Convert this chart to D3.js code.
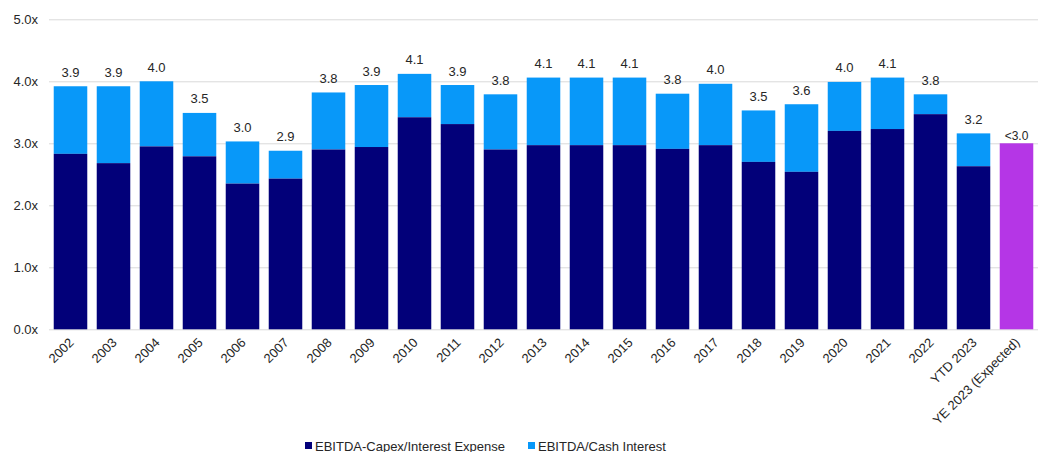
<!DOCTYPE html>
<html>
<head>
<meta charset="utf-8">
<script src="https://cdn.jsdelivr.net/npm/d3@7/dist/d3.min.js"></script>
<style>
  html, body { margin: 0; padding: 0; background: #ffffff; }
  svg { display: block; font-family: "Liberation Sans", Arial, sans-serif; }
</style>
</head>
<body>
<svg id="chart" width="1050" height="452"></svg>
<script>
// Coverage ratios by year
const categories = ["2002","2003","2004","2005","2006","2007","2008","2009","2010","2011","2012",
  "2013","2014","2015","2016","2017","2018","2019","2020","2021","2022","YTD 2023","YE 2023 (Expected)"];
// EBITDA-Capex / Interest Expense (lower, dark segment)
const capexCoverage = [2.83,2.68,2.95,2.79,2.35,2.43,2.90,2.94,3.42,3.31,2.90,
  2.97,2.97,2.97,2.91,2.97,2.70,2.54,3.20,3.23,3.47,2.63,null];
// EBITDA / Cash Interest (bar total)
const cashCoverage = [3.92,3.92,4.00,3.49,3.03,2.88,3.82,3.94,4.12,3.94,3.79,
  4.06,4.06,4.06,3.80,3.96,3.53,3.63,3.99,4.06,3.79,3.16,null];
// Year-end expectation shown as a single bar
const expectedCategory = "YE 2023 (Expected)";
const expectedValue = 3.0;
const expectedLabel = "<3.0";
const yTicks = [0,1,2,3,4,5];
const seriesNames = ["EBITDA-Capex/Interest Expense","EBITDA/Cash Interest"];

const colors = { dark: "#020079", light: "#0898F9", expected: "#B536E6", grid: "#D9D9D9", text: "#262626" };

const svg = d3.select("#chart");
const margin = { left: 49, right: 12, top: 19, bottom: 123 };
const width = 1050, height = 452;

const x = d3.scaleBand()
  .domain(categories)
  .range([margin.left, width - margin.right])
  .paddingInner(0.22)
  .paddingOuter(0.11);

const y = d3.scaleLinear()
  .domain([0, 5])
  .range([height - margin.bottom + 0.3, margin.top + 0.3]);

// Horizontal gridlines and y labels
const yAxis = d3.axisLeft(y)
  .tickValues(yTicks)
  .tickSize(-(width - margin.right - margin.left))
  .tickPadding(11)
  .tickFormat(d => d3.format(".1f")(d) + "x");

const gy = svg.append("g")
  .attr("transform", `translate(${margin.left},0)`)
  .call(yAxis);
gy.select(".domain").remove();
gy.selectAll(".tick line").attr("stroke", colors.grid).attr("stroke-width", 1);
gy.selectAll(".tick text")
  .attr("fill", colors.text)
  .attr("font-size", 13)
  .attr("font-family", "Liberation Sans, Arial, sans-serif");

// Build rows for plotting
const rows = categories.map((c, i) => ({
  cat: c, low: capexCoverage[i], total: cashCoverage[i]
}));
const stackedRows = rows.filter(r => r.total !== null);

const bars = svg.append("g");

// light segment: from the dark top to the total
bars.selectAll("rect.light")
  .data(stackedRows)
  .join("rect")
  .attr("class", "light")
  .attr("x", d => x(d.cat))
  .attr("width", x.bandwidth())
  .attr("y", d => y(d.total))
  .attr("height", d => y(d.low) - y(d.total))
  .attr("fill", colors.light);

// dark segment: from zero up
bars.selectAll("rect.dark")
  .data(stackedRows)
  .join("rect")
  .attr("class", "dark")
  .attr("x", d => x(d.cat))
  .attr("width", x.bandwidth())
  .attr("y", d => y(d.low))
  .attr("height", d => y(0) - y(d.low))
  .attr("fill", colors.dark);

// expected bar
bars.append("rect")
  .attr("x", x(expectedCategory))
  .attr("width", x.bandwidth())
  .attr("y", y(expectedValue))
  .attr("height", y(0) - y(expectedValue))
  .attr("fill", colors.expected);

// Total labels
svg.append("g").selectAll("text")
  .data(stackedRows)
  .join("text")
  .attr("x", d => x(d.cat) + x.bandwidth() / 2)
  .attr("y", d => y(d.total) - 9.5)
  .attr("text-anchor", "middle")
  .attr("font-size", 13)
  .attr("fill", colors.text)
  .text(d => d.total.toFixed(1));

svg.append("text")
  .attr("x", x(expectedCategory) + x.bandwidth() / 2)
  .attr("y", y(expectedValue) - 3)
  .attr("text-anchor", "middle")
  .attr("font-size", 12)
  .attr("fill", colors.text)
  .text(expectedLabel);

// Category labels, rotated
const xAxis = d3.axisBottom(x).tickSize(0).tickPadding(0);
const gx = svg.append("g")
  .attr("transform", `translate(0,${y(0)})`)
  .call(xAxis);
gx.select(".domain").remove();
gx.selectAll(".tick text")
  .attr("fill", colors.text)
  .attr("font-size", 13)
  .attr("font-family", "Liberation Sans, Arial, sans-serif")
  .attr("text-anchor", "end")
  .attr("dy", null)
  .attr("transform", "translate(4,14) rotate(-45)");

// Legend
const legendItems = [
  { name: seriesNames[0], color: colors.dark, x: 305 },
  { name: seriesNames[1], color: colors.light, x: 528 }
];
const lg = svg.append("g");
legendItems.forEach(it => {
  lg.append("rect")
    .attr("x", it.x).attr("y", 442).attr("width", 7).attr("height", 7)
    .attr("fill", it.color);
  lg.append("text")
    .attr("x", it.x + 10).attr("y", 450.5)
    .attr("font-size", 13)
    .attr("fill", colors.text)
    .text(it.name);
});
</script>
</body>
</html>
